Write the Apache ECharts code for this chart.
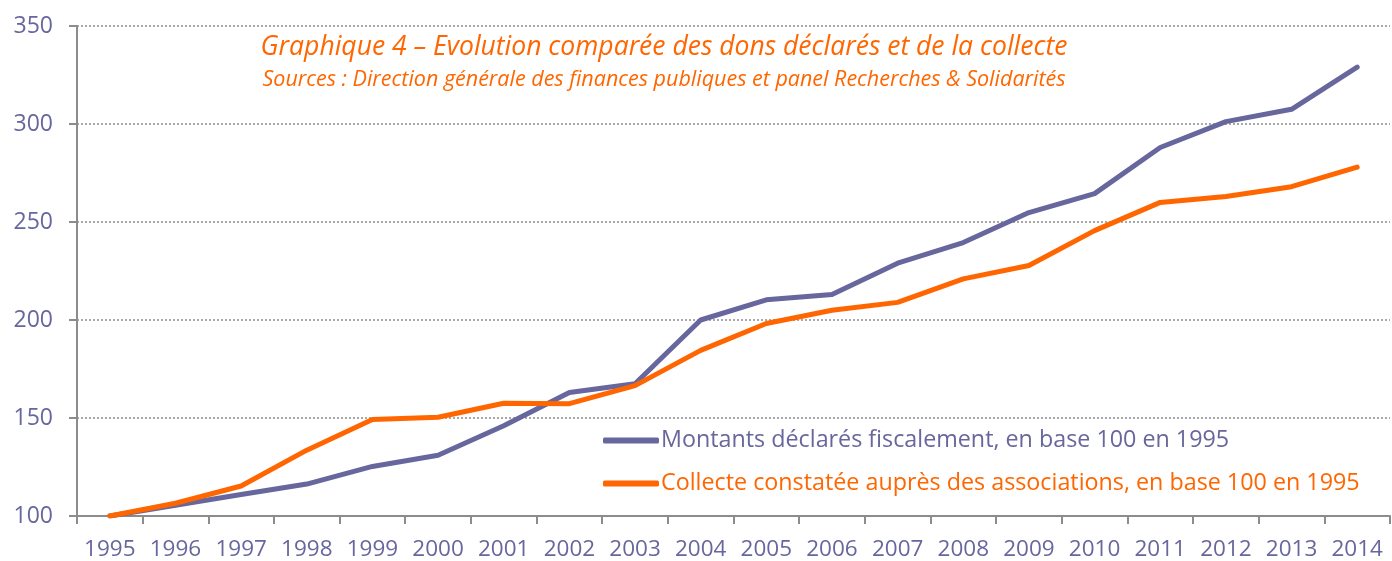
<!DOCTYPE html>
<html>
<head>
<meta charset="utf-8">
<script src="https://cdn.jsdelivr.net/npm/echarts@6/dist/echarts.min.js"></script>
<style>
  html, body { margin: 0; padding: 0; background: #fff; }
  #main { width: 1392px; height: 561px; }
</style>
</head>
<body>
<div id="main"></div>
<script>
// années
const years = ['1995', '1996', '1997', '1998', '1999', '2000', '2001', '2002', '2003', '2004',
  '2005', '2006', '2007', '2008', '2009', '2010', '2011', '2012', '2013', '2014'];
// dons déclarés (base 100)
const montants = [100, 105.5, 111, 116.3, 125.3, 131, 146, 163, 167.5, 200,
  210.3, 213, 229, 239.5, 254.8, 264.5, 288, 301.2, 307.5, 329];
// collecte (base 100)
const collecte = [100, 106.5, 115.3, 133.6, 149.2, 150.4, 157.5, 157.3, 166.5, 184.5,
  198.2, 205, 209, 221, 227.8, 245.6, 260, 263, 268, 278];

const purple = '#67669d';
const orange = '#ff6600';
const fontFam = '"Open Sans", Lato, sans-serif';

const chart = echarts.init(document.getElementById('main'));
chart.setOption({
  animation: false,
  grid: { left: 77, right: 2, top: 26, bottom: 44 },
  title: [
    {
      text: 'Graphique 4 – Evolution comparée des dons déclarés et de la collecte',
      left: 659, top: 29, textAlign: 'center',
      textStyle: { color: orange, fontStyle: 'italic', fontWeight: 'normal', fontSize: 26.5, fontFamily: fontFam }
    },
    {
      text: 'Sources : Direction générale des finances publiques et panel Recherches & Solidarités',
      left: 659, top: 64, textAlign: 'center',
      textStyle: { color: orange, fontStyle: 'italic', fontWeight: 'normal', fontSize: 21.5, fontFamily: fontFam }
    }
  ],
  legend: [
    {
      left: 598, top: 424, icon: 'roundRect', itemWidth: 56, itemHeight: 6, itemGap: 4,
      data: [{ name: 'Montants déclarés fiscalement, en base 100 en 1995', textStyle: { color: purple } }],
      textStyle: { fontSize: 23.3, fontFamily: fontFam, padding: [0, 0, 0, -3] }
    },
    {
      left: 598, top: 467, icon: 'roundRect', itemWidth: 56, itemHeight: 6, itemGap: 4,
      data: [{ name: 'Collecte constatée auprès des associations, en base 100 en 1995', textStyle: { color: orange } }],
      textStyle: { fontSize: 23.3, fontFamily: fontFam, padding: [0, 0, 0, -3] }
    }
  ],
  xAxis: {
    type: 'category',
    data: years,
    boundaryGap: true,
    axisLine: { lineStyle: { color: '#8c8c8c', width: 2 } },
    axisTick: { show: true, interval: 0, length: 8, lineStyle: { color: '#8c8c8c', width: 2 } },
    axisLabel: { interval: 0, hideOverlap: false, color: purple, fontSize: 22.5, fontFamily: fontFam, margin: 22 },
    splitLine: { show: false }
  },
  yAxis: {
    type: 'value',
    min: 100, max: 350, interval: 50,
    axisLine: { show: true, lineStyle: { color: '#8c8c8c', width: 2 } },
    axisTick: { show: true, length: 8, lineStyle: { color: '#8c8c8c', width: 2 } },
    axisLabel: { color: purple, fontSize: 23, fontFamily: fontFam, margin: 24 },
    splitLine: { show: true, lineStyle: { color: '#8c8c8c', type: [2, 2], width: 1.5 } }
  },
  series: [
    {
      name: 'Montants déclarés fiscalement, en base 100 en 1995',
      type: 'line', data: montants, symbol: 'none',
      lineStyle: { color: purple, width: 5, cap: 'round', join: 'round' },
      itemStyle: { color: purple }
    },
    {
      name: 'Collecte constatée auprès des associations, en base 100 en 1995',
      type: 'line', data: collecte, symbol: 'none',
      lineStyle: { color: orange, width: 5, cap: 'round', join: 'round' },
      itemStyle: { color: orange }
    }
  ]
});
</script>
</body>
</html>
